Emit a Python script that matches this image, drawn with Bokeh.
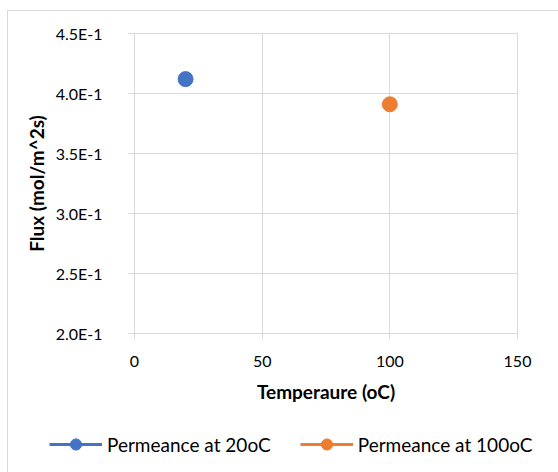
from bokeh.plotting import figure
from bokeh.models import Legend, LegendItem, FixedTicker
from bokeh.layouts import column, row
from bokeh.embed import file_html
from bokeh.resources import INLINE

# data
series_names = ["Permeance at 20oC", "Permeance at 100oC"]
temps = [20, 100]
flux = [0.412, 0.391]
colors = ["#4472C4", "#ED7D31"]
x_ticks = [0, 50, 100, 150]
y_ticks = [0.2, 0.25, 0.3, 0.35, 0.4, 0.45]
y_tick_labels = ["2.0E-1", "2.5E-1", "3.0E-1", "3.5E-1", "4.0E-1", "4.5E-1"]

FONT = "Lato"
GRID = "#d9d9d9"

p = figure(width=551, height=410, x_range=(0, 150), y_range=(0.2, 0.45),
           output_backend="svg", toolbar_location=None,
           min_border_left=126, min_border_right=42, min_border_top=22,
           min_border_bottom=88)

p.outline_line_color = GRID
p.xgrid.grid_line_color = GRID
p.ygrid.grid_line_color = GRID
p.xaxis.ticker = FixedTicker(ticks=x_ticks)
p.yaxis.ticker = FixedTicker(ticks=y_ticks)
p.yaxis.major_label_overrides = {t: l for t, l in zip(y_ticks, y_tick_labels)}

for ax in (p.xaxis, p.yaxis):
    ax.axis_line_color = GRID
    ax.major_tick_line_color = GRID
    ax.major_tick_out = 6
    ax.major_tick_in = 0
    ax.minor_tick_line_color = None
    ax.major_label_text_font = FONT
    ax.major_label_text_font_size = "16px"
    ax.major_label_text_color = "#000000"
    ax.axis_label_text_font = FONT
    ax.axis_label_text_font_size = "19px"
    ax.axis_label_text_font_style = "bold"
    ax.axis_label_text_color = "#000000"

p.xaxis.axis_label = "Temperaure (oC)"
p.yaxis.axis_label = "Flux (mol/m^2s)"
p.xaxis.major_label_standoff = 16
p.xaxis.axis_label_standoff = 10
p.yaxis.major_label_standoff = 26
p.yaxis.axis_label_standoff = 5

for x, y, c in zip(temps, flux, colors):
    p.scatter([x], [y], size=15, fill_color=c, line_color=c)

# legend strip below the plot
p2 = figure(width=551, height=52, x_range=(0, 1), y_range=(0, 1),
            output_backend="svg", toolbar_location=None,
            min_border=0, min_border_left=0, min_border_right=0,
            min_border_top=0, min_border_bottom=0)
p2.axis.visible = False
p2.grid.visible = False
p2.outline_line_color = None

items = []
for name, c in zip(series_names, colors):
    lr = p2.line([-5, -4], [-5, -4], line_color=c, line_width=3)
    sr = p2.scatter([-5], [-5], size=15, fill_color=c, line_color=c)
    items.append(LegendItem(label=name, renderers=[lr, sr]))

legend = Legend(items=items, orientation="horizontal", location=(41, 15),
                glyph_width=53, glyph_height=28, label_standoff=5, spacing=29,
                padding=0, margin=0, border_line_color=None,
                background_fill_alpha=0,
                label_text_font=FONT, label_text_font_size="19px",
                label_text_color="#000000")
p2.add_layout(legend, "center")

layout = column(p, row(p2), spacing=0)
layout.margin = (10, 0, 0, 7)
layout.styles = {"border-top": "1px solid #d9d9d9", "border-left": "1px solid #d9d9d9"}

open("out.html", "w").write(file_html(layout, INLINE))
